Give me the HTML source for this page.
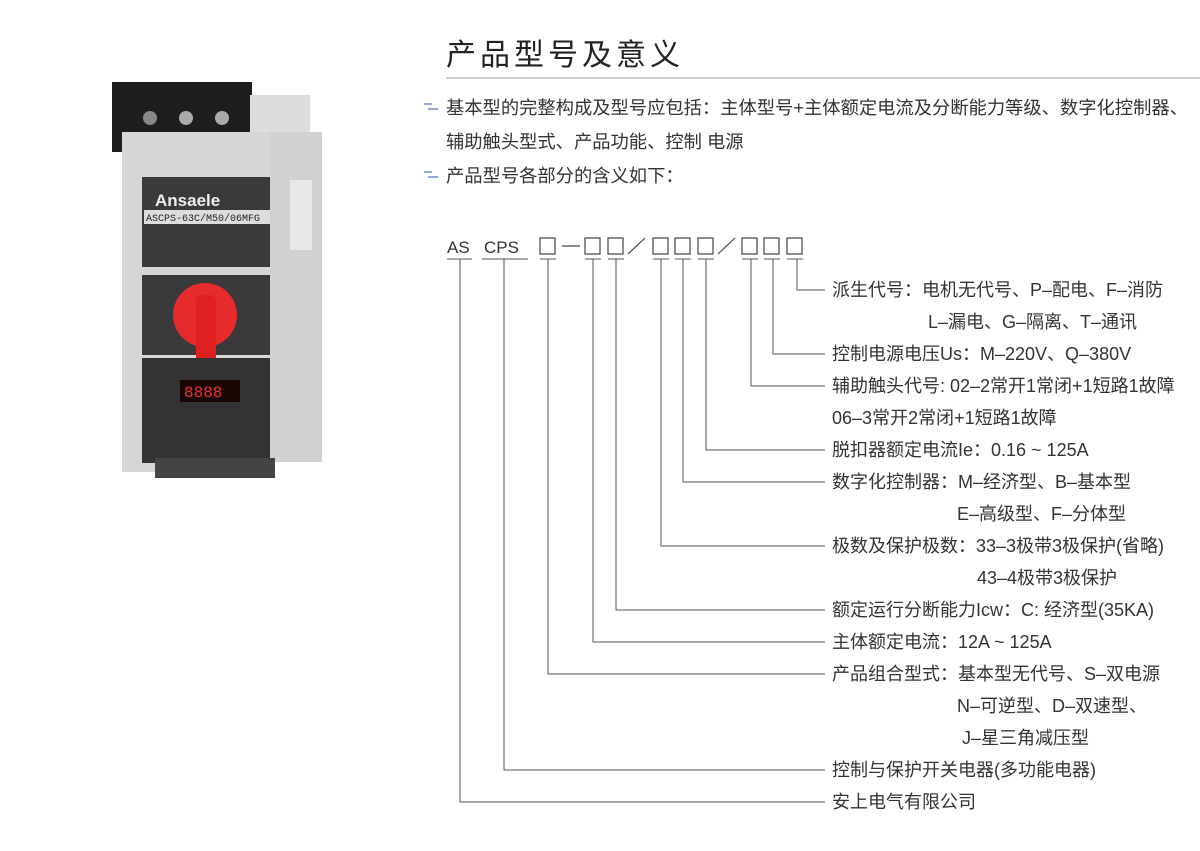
<!DOCTYPE html>
<html><head><meta charset="utf-8"><style>
body{margin:0;background:#fff;}
svg{display:block}
text{font-family:"Liberation Sans","Noto Sans CJK SC",sans-serif;fill:#333}
</style></head><body>
<svg width="1200" height="851" viewBox="0 0 1200 851" xmlns="http://www.w3.org/2000/svg">
<g>
<rect x="112" y="82" width="140" height="70" fill="#1e1e1e"/>
<rect x="250" y="95" width="60" height="80" fill="#ddd"/>
<circle cx="150" cy="118" r="7" fill="#888"/><circle cx="186" cy="118" r="7" fill="#aaa"/><circle cx="222" cy="118" r="7" fill="#aaa"/>
<rect x="122" y="132" width="150" height="340" fill="#d4d6d8"/>
<rect x="270" y="132" width="52" height="330" fill="#cfd1d3"/>
<rect x="290" y="180" width="22" height="70" fill="#e8e8e8"/>
<rect x="142" y="177" width="128" height="90" fill="#3a3a3c"/>
<text x="155" y="206" font-size="17" font-weight="bold" style="fill:#eee">Ansaele</text>
<rect x="144" y="210" width="126" height="14" fill="#ddd"/>
<text x="146" y="221" font-size="10" style="fill:#222;font-family:'Liberation Mono',monospace">ASCPS-63C/M50/06MFG</text>
<rect x="142" y="275" width="128" height="80" fill="#3a3a3c"/>
<circle cx="205" cy="315" r="32" fill="#e52b2b"/>
<rect x="196" y="295" width="20" height="78" rx="6" fill="#e02020"/>
<rect x="142" y="358" width="128" height="105" fill="#333"/>
<rect x="180" y="380" width="60" height="22" fill="#1a0505"/>
<text x="184" y="397" font-size="16" style="fill:#e33;font-family:'Liberation Mono',monospace">8888</text>
<rect x="155" y="458" width="120" height="20" fill="#444"/>
</g>
<text x="446" y="65" font-size="30" letter-spacing="4" style="fill:#222">产品型号及意义</text>
<line x1="446" y1="78" x2="1200" y2="78" stroke="#999" stroke-width="1"/>
<g stroke="#6a8fc4" stroke-width="1.5"><line x1="424" y1="104" x2="432" y2="104"/><line x1="428" y1="109" x2="438" y2="109"/>
<line x1="424" y1="172" x2="432" y2="172"/><line x1="428" y1="177" x2="438" y2="177"/></g>
<g font-size="18.3">
<text x="446" y="114">基本型的完整构成及型号应包括：主体型号+主体额定电流及分断能力等级、数字化控制器、</text>
<text x="446" y="148">辅助触头型式、产品功能、控制 电源</text>
<text x="446" y="182">产品型号各部分的含义如下：</text>
</g>
<g font-size="17"><text x="447" y="253">AS</text><text x="484" y="253">CPS</text></g>
<g fill="none" stroke="#444" stroke-width="1.2">
<rect x="540" y="238" width="15" height="16"/><line x1="562" y1="246" x2="580" y2="246"/>
<rect x="585" y="238" width="15" height="16"/><rect x="608" y="238" width="15" height="16"/>
<line x1="628" y1="254" x2="645" y2="238"/>
<rect x="653" y="238" width="15" height="16"/><rect x="675" y="238" width="15" height="16"/><rect x="698" y="238" width="15" height="16"/>
<line x1="718" y1="254" x2="735" y2="238"/>
<rect x="742" y="238" width="15" height="16"/><rect x="764" y="238" width="15" height="16"/><rect x="787" y="238" width="15" height="16"/>
</g>
<g stroke="#555" stroke-width="1" fill="none">
<line x1="447" y1="259" x2="472" y2="259"/><line x1="482" y1="259" x2="528" y2="259"/>
<line x1="540" y1="259" x2="556" y2="259"/><line x1="585" y1="259" x2="601" y2="259"/><line x1="608" y1="259" x2="624" y2="259"/>
<line x1="653" y1="259" x2="669" y2="259"/><line x1="675" y1="259" x2="691" y2="259"/><line x1="698" y1="259" x2="714" y2="259"/>
<line x1="742" y1="259" x2="758" y2="259"/><line x1="764" y1="259" x2="780" y2="259"/><line x1="787" y1="259" x2="803" y2="259"/>
<polyline points="797,259 797,290 825,290"/>
<polyline points="773,259 773,354 825,354"/>
<polyline points="751,259 751,386 825,386"/>
<polyline points="706,259 706,450 825,450"/>
<polyline points="683,259 683,482 825,482"/>
<polyline points="661,259 661,546 825,546"/>
<polyline points="616,259 616,610 825,610"/>
<polyline points="593,259 593,642 825,642"/>
<polyline points="548,259 548,674 825,674"/>
<polyline points="504,259 504,770 825,770"/>
<polyline points="460,259 460,802 825,802"/>
</g>
<g font-size="18">
<text x="832" y="296">派生代号：电机无代号、P–配电、F–消防</text>
<text x="928" y="328">L–漏电、G–隔离、T–通讯</text>
<text x="832" y="360">控制电源电压Us：M–220V、Q–380V</text>
<text x="832" y="392">辅助触头代号: 02–2常开1常闭+1短路1故障</text>
<text x="832" y="424">06–3常开2常闭+1短路1故障</text>
<text x="832" y="456">脱扣器额定电流Ie：0.16 ~ 125A</text>
<text x="832" y="488">数字化控制器：M–经济型、B–基本型</text>
<text x="957" y="520">E–高级型、F–分体型</text>
<text x="832" y="552">极数及保护极数：33–3极带3极保护(省略)</text>
<text x="977" y="584">43–4极带3极保护</text>
<text x="832" y="616">额定运行分断能力Icw：C: 经济型(35KA)</text>
<text x="832" y="648">主体额定电流：12A ~ 125A</text>
<text x="832" y="680">产品组合型式：基本型无代号、S–双电源</text>
<text x="957" y="712">N–可逆型、D–双速型、</text>
<text x="962" y="744">J–星三角减压型</text>
<text x="832" y="776">控制与保护开关电器(多功能电器)</text>
<text x="832" y="808">安上电气有限公司</text>
</g>
</svg>
</body></html>
